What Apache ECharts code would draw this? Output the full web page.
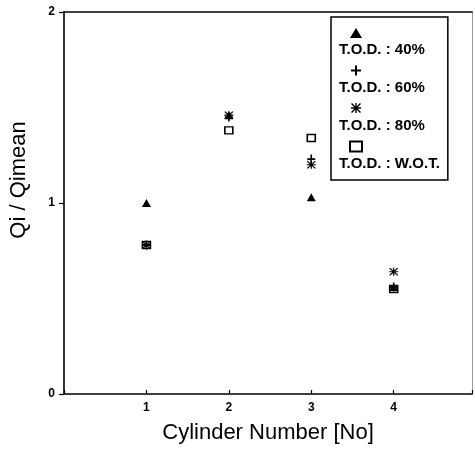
<!DOCTYPE html>
<html><head><meta charset="utf-8">
<script src="https://cdn.jsdelivr.net/npm/echarts@6/dist/echarts.min.js"></script>
<style>html,body{margin:0;padding:0;background:#fff}#c{width:475px;height:449px}</style>
</head><body><div id="c"></div>
<script>
const cylinders = [1, 2, 3, 4];
const seriesNames = ['T.O.D. : 40%', 'T.O.D. : 60%', 'T.O.D. : 80%', 'T.O.D. : W.O.T.'];
const tod40 = [1.00, 1.46, 1.03, 0.56];
const tod60 = [0.78, 1.45, 1.23, 0.56];
const tod80 = [0.78, 1.46, 1.20, 0.64];
const todWOT = [0.78, 1.38, 1.34, 0.55];
const xTicks = [1, 2, 3, 4];
const yTicks = [0, 1, 2];

const plusPath = 'path://M4,0 L6,0 L6,4 L10,4 L10,6 L6,6 L6,10 L4,10 L4,6 L0,6 L0,4 L4,4 Z';
const starPath = 'path://M4.3,0 L5.7,0 L5.7,10 L4.3,10 Z M0,4.3 L10,4.3 L10,5.7 L0,5.7 Z M1,0 L10,9 L9,10 L0,1 Z M9,0 L10,1 L1,10 L0,9 Z';
const FONT = 'Liberation Sans, Arial, sans-serif';

function pts(vals) { return cylinders.map((c, i) => [c, vals[i]]); }

const chart = echarts.init(document.getElementById('c'), null, {renderer: 'canvas'});
chart.setOption({
  animation: false,
  backgroundColor: '#fff',
  grid: {left: 61, right: 1, top: 12, bottom: 51, containLabel: false},
  xAxis: [{
    type: 'value', min: 0, max: 4.95, interval: 1,
    name: 'Cylinder Number [No]', nameLocation: 'middle', nameGap: 28,
    nameTextStyle: {fontFamily: FONT, fontSize: 22, color: '#000'},
    axisLine: {show: true, onZero: false, lineStyle: {color: '#000', width: 1.6}},
    axisTick: {show: true, inside: true, length: 4, lineStyle: {color: '#000', width: 1.2}},
    axisLabel: {
      margin: 8, color: '#000', fontFamily: FONT, fontWeight: 'bold', fontSize: 12,
      formatter: v => (xTicks.indexOf(v) >= 0 ? String(v) : '')
    },
    splitLine: {show: false}
  }, {
    type: 'value', position: 'top', min: 0, max: 4.95,
    axisLine: {show: true, onZero: false, lineStyle: {color: '#000', width: 1.5}},
    axisTick: {show: false}, axisLabel: {show: false}, splitLine: {show: false}
  }],
  yAxis: [{
    type: 'value', min: 0, max: 2, interval: 1,
    name: 'Qi / Qimean', nameLocation: 'middle', nameGap: 34, nameRotate: 90,
    nameTextStyle: {fontFamily: FONT, fontSize: 22, color: '#000', padding: [0, 0, 0, 46]},
    axisLine: {show: true, onZero: false, lineStyle: {color: '#000', width: 1.6}},
    axisTick: {show: true, inside: false, length: 5, lineStyle: {color: '#000', width: 1.2}},
    axisLabel: {
      margin: 9, color: '#000', fontFamily: FONT, fontWeight: 'bold', fontSize: 12,
      formatter: v => (yTicks.indexOf(v) >= 0 ? String(v) : '')
    },
    splitLine: {show: false}
  }, {
    type: 'value', position: 'right', min: 0, max: 2,
    axisLine: {show: true, onZero: false, lineStyle: {color: '#999', width: 1}},
    axisTick: {show: false}, axisLabel: {show: false}, splitLine: {show: false}
  }],
  legend: [{
    orient: 'vertical', left: 349, top: 28, itemWidth: 12, itemHeight: 10, itemGap: 27.5,
    padding: 0, selectedMode: false,
    formatter: () => '',
    textStyle: {fontSize: 10, lineHeight: 10},
    data: [
      {name: seriesNames[0], icon: 'triangle'},
      {name: seriesNames[1], icon: plusPath},
      {name: seriesNames[2], icon: starPath},
      {name: seriesNames[3], icon: 'rect'}
    ]
  }, {
    orient: 'vertical', left: 331, top: 17, itemWidth: 0, itemHeight: 10, itemGap: 23,
    icon: 'none', selectedMode: false,
    padding: [25.5, 8, 8.5, 3],
    borderColor: '#000', borderWidth: 1.5, backgroundColor: '#fff',
    textStyle: {fontFamily: FONT, fontWeight: 'bold', fontSize: 15, lineHeight: 15, color: '#000'},
    data: seriesNames
  }],
  series: [{
    name: seriesNames[0], type: 'scatter', symbol: 'triangle', symbolSize: [9, 8],
    itemStyle: {color: '#000', opacity: 1}, z: 3, data: pts(tod40)
  }, {
    name: seriesNames[1], type: 'scatter', symbol: plusPath, symbolSize: [8, 9],
    itemStyle: {color: '#000', opacity: 1}, z: 3, data: pts(tod60)
  }, {
    name: seriesNames[2], type: 'scatter', symbol: starPath, symbolSize: [9, 8],
    itemStyle: {color: '#000', opacity: 1}, z: 3, data: pts(tod80)
  }, {
    name: seriesNames[3], type: 'scatter', symbol: 'rect', symbolSize: [8, 7],
    itemStyle: {color: '#fff', borderColor: '#000', borderWidth: 1.5, opacity: 1}, z: 2, data: pts(todWOT)
  }]
});
</script>
</body></html>
